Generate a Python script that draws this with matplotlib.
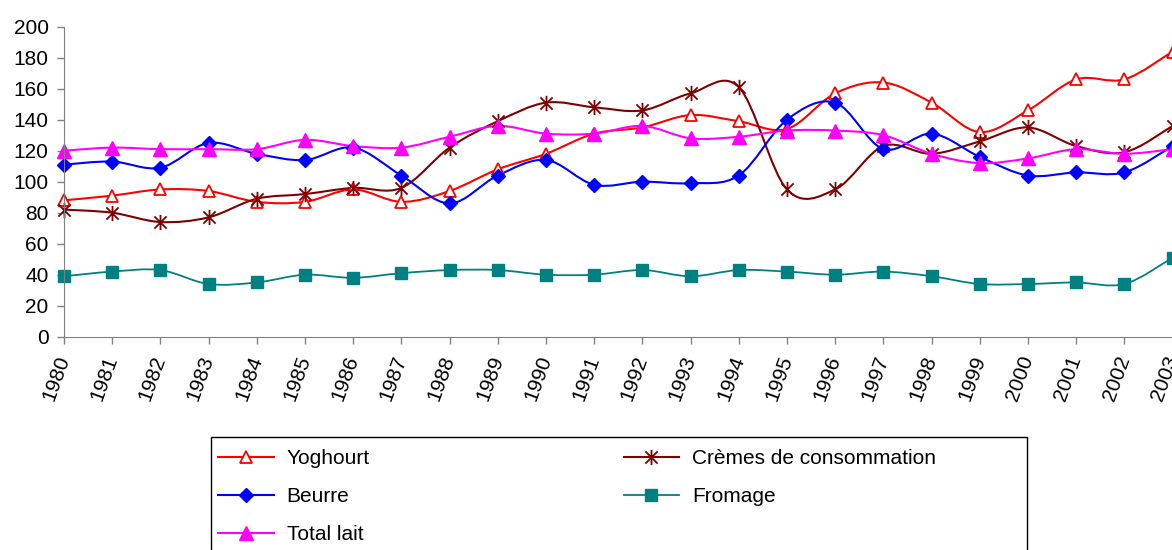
import numpy as np
import matplotlib.pyplot as plt
from matplotlib.path import Path
from matplotlib.patches import PathPatch, Rectangle
from matplotlib.lines import Line2D

plt.rcParams['font.family'] = ['Liberation Sans', 'DejaVu Sans']

# Data (index values)
years = list(range(1980, 2004))
yoghourt = [88, 91, 95, 94, 87, 87, 95, 87, 94, 108, 118, 131, 135, 143, 139, 134,
            157, 164, 151, 132, 146, 166, 166, 184]
cremes = [82, 80, 74, 77, 89, 92, 96, 96, 122, 139, 151, 148, 146, 157, 161, 95,
          95, 123, 118, 126, 135, 123, 119, 136]
beurre = [111, 113, 109, 125, 118, 114, 122, 104, 86, 104, 114, 98, 100, 99, 104, 140,
          151, 121, 131, 116, 104, 106, 106, 123]
fromage = [39, 42, 43, 34, 35, 40, 38, 41, 43, 43, 40, 40, 43, 39, 43, 42,
           40, 42, 39, 34, 34, 35, 34, 51]
total_lait = [120, 122, 121, 121, 121, 127, 123, 122, 129, 136, 131, 131, 136, 128, 129, 133,
              133, 130, 118, 112, 115, 121, 118, 121]

labels = ['Yoghourt', 'Crèmes de consommation', 'Beurre', 'Fromage', 'Total lait']
colors = ['#FF0000', '#800000', '#0000FF', '#008080', '#FF00FF']

# asterisk marker: vertical bar plus an X
star = Path([(0, -1), (0, 1), (-0.8, -0.8), (0.8, 0.8), (-0.8, 0.8), (0.8, -0.8)],
            [Path.MOVETO, Path.LINETO, Path.MOVETO, Path.LINETO, Path.MOVETO, Path.LINETO])

styles = [
    dict(marker='^', ms=9, mfc='white', mew=1.3),
    dict(marker=star, ms=11, mew=1.3),
    dict(marker='D', ms=7.5, mew=1),
    dict(marker='s', ms=8.5, mew=1),
    dict(marker='^', ms=9.5, mew=1),
]


def smooth_path(x, y):
    # Catmull-Rom style bezier, like Excel's smoothed lines
    pts = np.column_stack([x, y]).astype(float)
    ext = np.vstack([pts[0], pts, pts[-1]])
    verts = [pts[0]]
    codes = [Path.MOVETO]
    for i in range(len(pts) - 1):
        p0, p1, p2, p3 = ext[i], ext[i + 1], ext[i + 2], ext[i + 3]
        verts += [p1 + (p2 - p0) / 6, p2 - (p3 - p1) / 6, p2]
        codes += [Path.CURVE4] * 3
    return Path(verts, codes)


fig = plt.figure(figsize=(11.72, 5.5), dpi=100)
ax = fig.add_axes([64 / 1172, 213.3 / 550, 1108.6 / 1172, 310 / 550])

series = [yoghourt, cremes, beurre, fromage, total_lait]
handles = []
for vals, lab, col, st in zip(series, labels, colors, styles):
    lw = 1.5 if col != '#008080' else 1.3
    ax.add_patch(PathPatch(smooth_path(years, vals), fill=False, edgecolor=col, lw=lw, clip_on=False))
    ax.plot(years, vals, linestyle='none', color=col, mec=col, clip_on=False, **st)
    handles.append(Line2D([], [], color=col, lw=lw, mec=col, **st))

ax.set_xlim(1980, 2003)
ax.set_ylim(0, 200)
ax.set_yticks(range(0, 201, 20))
ax.set_xticks(years)
ax.set_xticklabels([str(y) for y in years], rotation=70, ha='right', va='center',
                   rotation_mode='anchor')
ax.tick_params(axis='both', labelsize=15, color='#808080', length=5, width=1)
ax.tick_params(axis='x', pad=9)
ax.tick_params(axis='y', pad=6)
for s in ['top', 'right']:
    ax.spines[s].set_visible(False)
for s in ['left', 'bottom']:
    ax.spines[s].set_color('#808080')

# legend box, cut off by the bottom of the figure
fig.add_artist(Rectangle((211 / 1172, -0.05), 816 / 1172, (550 - 437) / 550 + 0.05,
                         transform=fig.transFigure, fill=False, edgecolor='black', lw=1))
order = [0, 2, 4, 1, 3]
fig.legend([handles[i] for i in order], [labels[i] for i in order], ncol=2,
           loc='upper left', bbox_to_anchor=(208 / 1172, 1 - 439 / 550), frameon=False,
           fontsize=15, handlelength=2.65, handletextpad=0.62, columnspacing=12.2,
           labelspacing=0.9, borderpad=0)

fig.savefig('out.png', dpi=100)
